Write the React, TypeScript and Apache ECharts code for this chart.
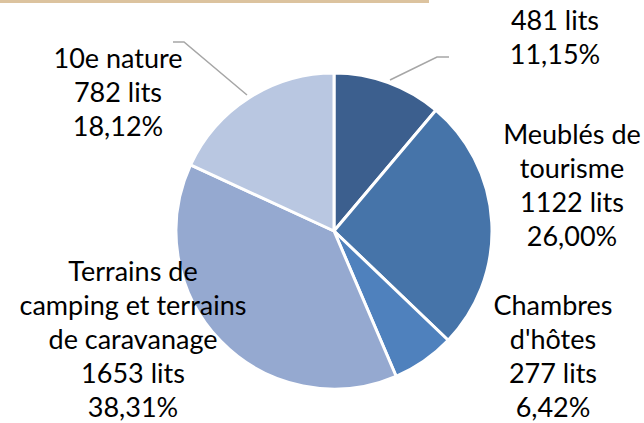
import React, { useEffect, useRef } from "react";
import * as echarts from "echarts";

const categories = [
  "Hôtels",
  "Meublés de\ntourisme",
  "Chambres\nd'hôtes",
  "Terrains de\ncamping et terrains\nde caravanage",
  "10e nature",
];
const values = [481, 1122, 277, 1653, 782];
const showName = [false, true, true, true, true];
const colors = ["#3C5F8E", "#4674A9", "#4F81BD", "#95A9D0", "#B9C7E1"];

// label block centres (px) and leader lines
const labelPos: [number, number][] = [
  [555, 36],
  [572, 184],
  [553, 355],
  [133, 338],
  [118, 91],
];
const leaderLines: ([number, number][] | null)[] = [
  [
    [390, 80],
    [437, 57],
    [449, 57],
  ],
  null,
  null,
  null,
  [
    [247, 95],
    [184, 42],
    [173, 42],
  ],
];

export default function App() {
  const ref = useRef<HTMLDivElement>(null);
  useEffect(() => {
    document.body.style.margin = "0";
    if (!ref.current) return;
    const chart = echarts.init(ref.current, null, { renderer: "svg" });
    const total = values.reduce((a, b) => a + b, 0);
    chart.setOption({
      animation: false,
      graphic: [
        {
          type: "rect",
          shape: { x: 0, y: 0, width: 429, height: 3 },
          style: { fill: "#DCC39F" },
        },
      ],
      series: [
        {
          type: "pie",
          center: [334, 231],
          radius: [0, 158],
          startAngle: 90,
          clockwise: true,
          itemStyle: { borderColor: "#ffffff", borderWidth: 3 },
          label: {
            show: true,
            position: "outside",
            fontFamily: "Lato",
            fontSize: 27,
            lineHeight: 34,
            color: "#000000",
            align: "center",
            overflow: "none",
            width: 400,
            formatter: (p: any) => {
              const pct = ((p.value / total) * 100).toFixed(2).replace(".", ",");
              const lines = `${p.value} lits\n${pct}%`;
              return showName[p.dataIndex] ? `${p.name}\n${lines}` : lines;
            },
          },
          labelLine: {
            show: true,
            lineStyle: { color: "#A6A6A6", width: 1.5 },
          },
          labelLayout: (params: any) => {
            const i = params.dataIndex;
            const res: any = {
              x: labelPos[i][0],
              y: labelPos[i][1],
              align: "center",
              verticalAlign: "middle",
              width: 400,
            };
            if (leaderLines[i]) res.labelLinePoints = leaderLines[i];
            return res;
          },
          data: values.map((v, i) => ({
            value: v,
            name: categories[i],
            itemStyle: { color: colors[i] },
            labelLine: { show: !!leaderLines[i] },
          })),
        },
      ],
    });
    return () => chart.dispose();
  }, []);
  return <div ref={ref} style={{ width: 644, height: 423 }} />;
}
